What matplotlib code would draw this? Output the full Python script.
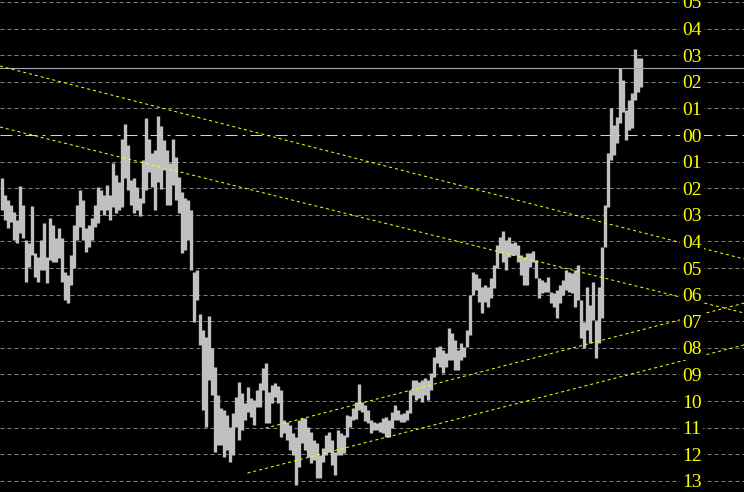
import numpy as np
import matplotlib.pyplot as plt

# bar highs / lows, one per period
highs = [-1.62, -2.26, -2.44, -2.63, -2.89, -3.20, -1.92, -2.63, -3.95, -4.06,
         -2.67, -4.44, -4.59, -3.95, -3.31, -4.59, -3.12, -3.38, -3.87, -3.50,
         -3.87, -5.15, -5.26, -4.51, -3.38, -2.63, -2.07, -2.44, -3.50, -3.38,
         -3.12, -2.63, -1.95, -2.07, -2.26, -1.88, -2.26, -1.05, -1.50, -1.77,
         -0.15, 0.41, -0.38, -1.69, -1.62, -1.95, -2.37, -0.94, 0.64, -0.15,
         -0.68, -0.56, 0.71, 0.34, -0.19, -0.56, -1.05, -0.15, -0.83, -1.58,
         -2.14, -2.37, -2.44, -2.82, -5.15, -5.08, -6.73, -7.33, -7.59, -6.80,
         -8.01, -8.72, -9.77, -10.26, -10.34, -10.53, -10.98, -10.45, -9.85, -9.29,
         -9.70, -10.08, -9.47, -9.89, -9.96, -9.59, -9.32, -8.76, -8.57, -9.66,
         -9.40, -9.32, -9.44, -9.59, -10.71, -10.79, -10.90, -11.20, -11.35, -10.71,
         -10.64, -10.64, -10.98, -11.17, -11.47, -11.58, -12.03, -11.77, -11.28, -11.17,
         -11.47, -11.92, -11.09, -11.20, -11.28, -10.53, -10.56, -10.26, -10.04, -9.36,
         -10.04, -10.15, -10.34, -10.71, -10.79, -10.83, -10.79, -10.64, -10.60, -10.71,
         -10.41, -10.15, -10.34, -10.49, -10.45, -10.34, -9.59, -9.21, -9.21, -9.29,
         -9.21, -9.14, -9.21, -8.95, -8.35, -7.97, -7.93, -8.08, -8.20, -7.26,
         -7.44, -7.71, -8.08, -7.82, -7.97, -7.33, -6.02, -5.15, -5.23, -5.38,
         -5.71, -5.64, -5.71, -5.38, -4.89, -4.14, -3.83, -3.61, -3.95, -3.83,
         -4.06, -4.02, -4.14, -4.51, -4.59, -4.44, -4.44, -4.36, -4.70, -5.38,
         -5.45, -5.53, -5.34, -5.90, -5.94, -5.83, -5.64, -5.45, -5.08, -5.15,
         -5.19, -5.08, -4.89, -6.20, -7.03, -5.71, -6.39, -5.53, -6.95, -5.71,
         -4.21, -2.63, -0.68, 1.02, 0.38, 0.68, 2.52, 2.07, 0.94, 1.32,
         1.58, 3.23, 2.89, 2.89]
lows = [-2.82, -3.20, -3.50, -3.27, -3.95, -4.06, -3.68, -3.87, -5.53, -4.96,
        -4.51, -5.34, -5.53, -5.08, -5.08, -5.56, -4.70, -4.77, -4.77, -4.62,
        -5.53, -6.20, -6.32, -5.64, -5.00, -3.95, -3.46, -3.95, -4.40, -4.21,
        -3.95, -3.46, -3.31, -2.82, -3.01, -2.82, -3.20, -2.71, -2.93, -2.82,
        -2.71, -1.62, -2.07, -2.63, -2.93, -2.82, -3.05, -2.56, -2.07, -1.39,
        -1.95, -2.82, -1.77, -2.03, -1.32, -2.63, -2.63, -1.88, -2.44, -2.93,
        -4.44, -4.32, -3.95, -5.08, -7.03, -6.20, -7.89, -10.34, -10.98, -9.21,
        -9.77, -11.92, -11.65, -11.65, -12.11, -11.84, -12.29, -12.03, -10.98, -11.47,
        -11.09, -10.71, -10.41, -10.60, -10.90, -10.23, -10.23, -9.59, -10.83, -10.83,
        -10.08, -9.85, -10.08, -11.35, -11.20, -11.47, -11.84, -12.03, -13.16, -12.48,
        -11.58, -11.84, -12.11, -12.33, -12.22, -12.89, -12.89, -12.29, -12.03, -11.92,
        -12.41, -12.78, -12.03, -12.03, -11.95, -11.35, -10.98, -10.71, -10.68, -10.34,
        -10.41, -10.75, -10.83, -11.20, -11.09, -11.09, -11.17, -11.20, -11.35, -11.35,
        -11.02, -10.71, -10.71, -10.79, -10.79, -10.71, -10.45, -9.77, -9.96, -9.89,
        -10.04, -9.77, -9.96, -9.59, -9.10, -8.57, -8.72, -8.95, -8.72, -8.46,
        -8.46, -8.83, -8.83, -8.46, -8.35, -7.97, -7.52, -6.02, -5.83, -6.28,
        -6.69, -6.28, -6.47, -6.13, -5.75, -5.00, -4.44, -4.77, -5.08, -4.59,
        -4.51, -4.51, -4.77, -5.26, -5.64, -5.64, -4.96, -4.77, -5.38, -6.13,
        -5.94, -5.90, -5.90, -6.32, -6.47, -6.88, -6.32, -6.02, -5.83, -5.90,
        -5.94, -6.47, -6.20, -7.63, -8.01, -7.33, -7.82, -6.95, -8.38, -7.82,
        -6.88, -4.21, -2.71, -0.94, -0.75, -0.30, 0.45, 0.86, -0.19, 0.19,
        0.26, 1.32, 1.62, 1.80]

levels = list(range(-13, 6))
last_price = 2.52

# trend lines: (start index, start price, end index, end price)
trend_lines = [
    (-0.5, 2.59, 247.5, -4.66),
    (-0.5, 0.30, 247.5, -6.69),
    (88.0, -11.02, 247.5, -6.32),
    (82.0, -12.71, 247.5, -7.89),
]

idx = np.arange(len(highs))

fig = plt.figure(figsize=(7.44, 4.92), dpi=100)
fig.patch.set_facecolor('black')
ax = fig.add_axes([0, 0, 1, 1])
ax.set_facecolor('black')
ax.set_xlim(-0.5, 247.5)
ax.set_ylim(-13.42, 5.075)
ax.axis('off')

for lv in levels:
    if lv == 0:
        ax.axhline(lv, color='#b0e0e6', lw=0.72, dashes=(12, 5, 3, 5), zorder=3)
    else:
        ax.axhline(lv, color='#808080', lw=0.72, dashes=(4, 3), zorder=1)

ax.vlines(idx, lows, highs, colors='#c0c0c0', linewidth=2.4, zorder=2)

ax.axhline(last_price, color='#a0a8b8', lw=0.8, zorder=3)

for x0, y0, x1, y1 in trend_lines:
    ax.plot([x0, x1], [y0, y1], color='#ffff00', lw=0.72, dashes=(3, 3), zorder=4)

tr = ax.get_yaxis_transform()
for lv in levels:
    ax.text(0.930, lv, '%02d' % abs(lv), transform=tr, color='#ffff00',
            fontsize=14, family='Liberation Serif', ha='center', va='center_baseline',
            bbox=dict(boxstyle='square,pad=0.1', fc='black', ec='none'), zorder=5)

plt.savefig('out.png', dpi=100, facecolor='black')
